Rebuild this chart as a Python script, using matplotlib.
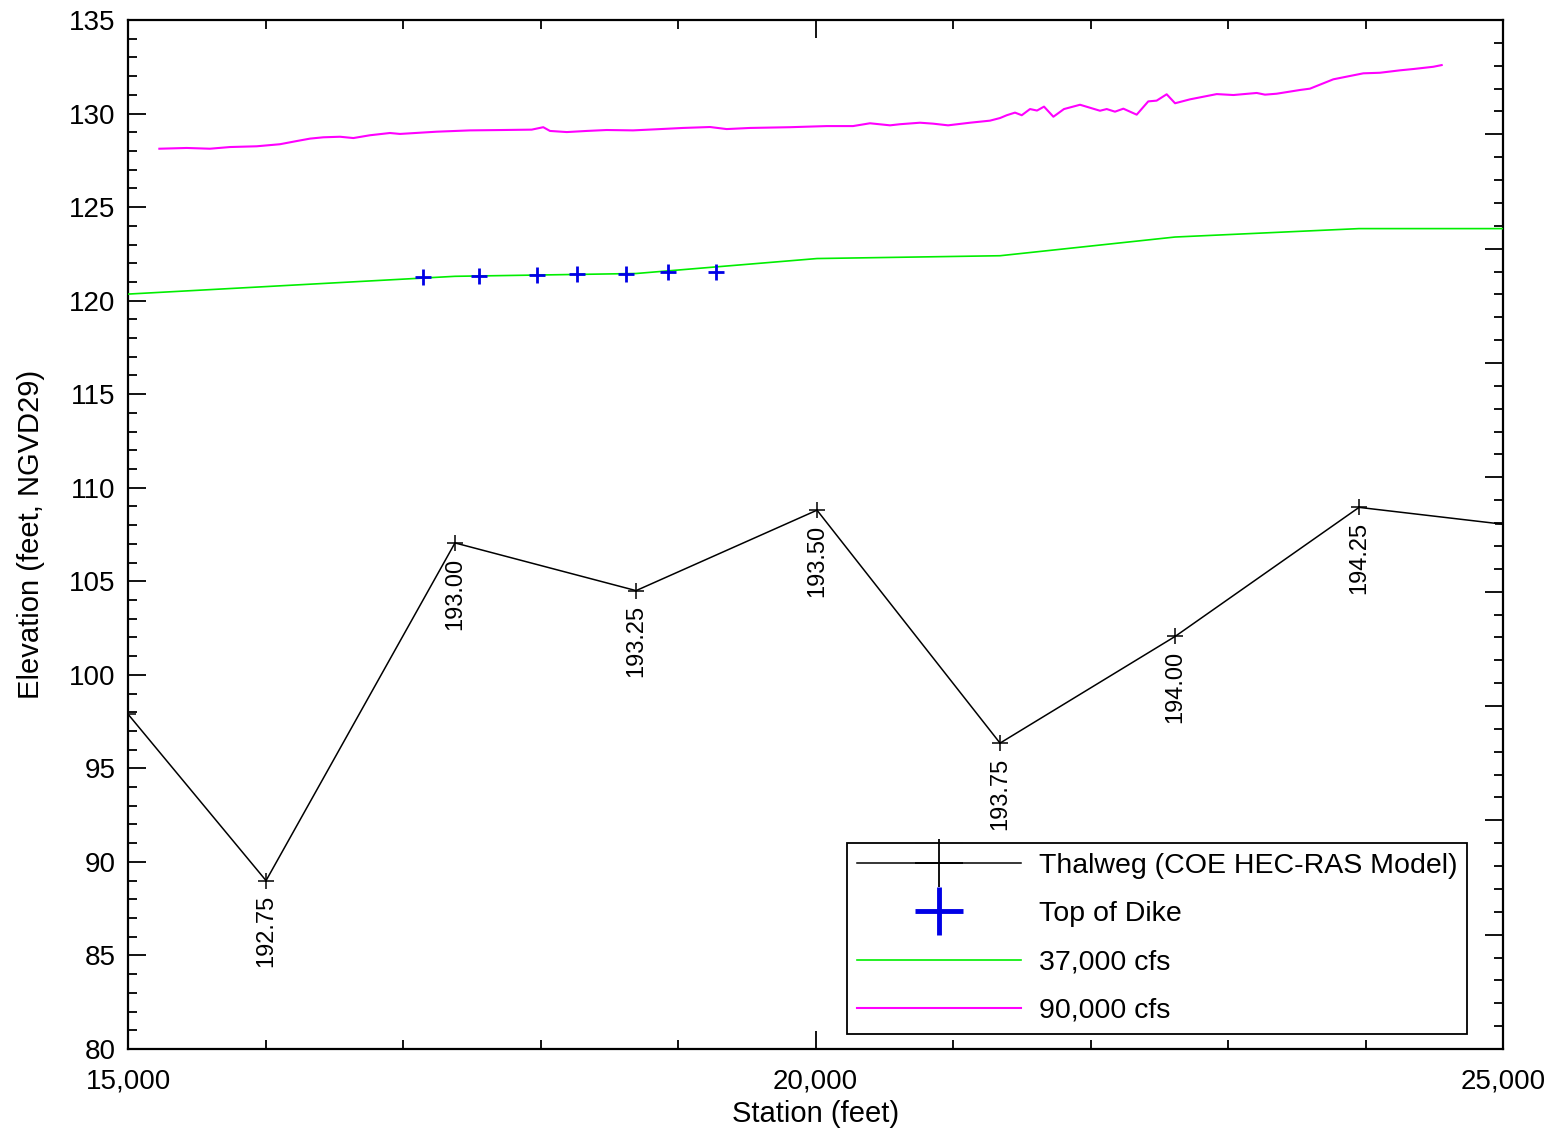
import numpy as np
import matplotlib
matplotlib.use("Agg")
import matplotlib.pyplot as plt
from matplotlib.lines import Line2D
from matplotlib.ticker import MultipleLocator, FuncFormatter

plt.rcParams['font.family'] = ['Liberation Sans', 'DejaVu Sans']

# ── Data ──
# Thalweg profile (station ft, elevation ft) and river mile labels
thal_x = [15000, 16004, 17378, 18695, 20011, 21342, 22615, 23953, 25000]
thal_y = [97.9, 89.0, 107.05, 104.5, 108.8, 96.35, 102.05, 108.95, 108.05]
rm_x = [16004, 17378, 18695, 20011, 21342, 22615, 23953]
rm_y = [89.0, 107.05, 104.5, 108.8, 96.35, 102.05, 108.95]
rm_labels = ["192.75", "193.00", "193.25", "193.50", "193.75", "194.00", "194.25"]

# Top of dike
dike_x = [17143, 17555, 17977, 18265, 18622, 18925, 19276]
dike_y = [121.28, 121.32, 121.37, 121.41, 121.44, 121.52, 121.52]

# 37,000 cfs water surface
q37_x = [15000, 17378, 18695, 20011, 21342, 22615, 23953, 25000]
q37_y = [120.35, 121.3, 121.45, 122.25, 122.4, 123.4, 123.85, 123.85]

# 90,000 cfs water surface
q90_x = [15228, 15427, 15596, 15742, 15936, 16105, 16227, 16324, 16420, 16542,
         16639, 16760, 16905, 16978, 17245, 17487, 17727, 17936, 18020, 18069,
         18191, 18336, 18481, 18673, 18845, 19036, 19233, 19354, 19524, 19815,
         20081, 20273, 20396, 20542, 20615, 20760, 20855, 20964, 21124, 21269,
         21342, 21391, 21451, 21500, 21560, 21611, 21662, 21730, 21807, 21924,
         22069, 22118, 22178, 22239, 22336, 22420, 22481, 22554, 22615, 22724,
         22918, 23039, 23209, 23269, 23354, 23524, 23596, 23766, 23984, 24105,
         24251, 24348, 24493, 24554]
q90_y = [128.12, 128.16, 128.12, 128.21, 128.25, 128.36, 128.53, 128.66, 128.73, 128.76,
         128.69, 128.84, 128.96, 128.91, 129.03, 129.10, 129.12, 129.14, 129.27, 129.07,
         129.01, 129.07, 129.12, 129.10, 129.16, 129.23, 129.28, 129.17, 129.23, 129.27,
         129.33, 129.33, 129.48, 129.37, 129.43, 129.51, 129.46, 129.37, 129.51, 129.62,
         129.76, 129.91, 130.05, 129.91, 130.24, 130.16, 130.37, 129.83, 130.24, 130.47,
         130.15, 130.24, 130.10, 130.26, 129.94, 130.65, 130.69, 131.03, 130.55, 130.76,
         131.04, 130.99, 131.10, 131.01, 131.06, 131.26, 131.33, 131.83, 132.15, 132.18,
         132.31, 132.38, 132.50, 132.59]

# ── Figure ──
fig = plt.figure(figsize=(15.58, 11.33), dpi=100)
ax = fig.add_axes([128/1558, 1 - 1049/1133, 1375/1558, 1029/1133])

ax.plot(q90_x, q90_y, color='#ff00ff', lw=1.5, zorder=3)
ax.plot(q37_x, q37_y, color='#00ee00', lw=1.2, zorder=3)
ax.plot(thal_x, thal_y, color='black', lw=1.1, marker='+', ms=11, mew=1.1, zorder=4)
ax.plot(dike_x, dike_y, ls='none', marker='+', ms=11, mew=2.0, color='#0000e6', zorder=5)

for x, y, lab in zip(rm_x, rm_y, rm_labels):
    ax.annotate(lab, (x, y), xytext=(0, -10.5), textcoords='offset points',
                rotation=90, ha='center', va='top', fontsize=17)

ax.set_xlim(15000, 25000)
ax.set_ylim(80, 135)
ax.xaxis.set_major_locator(MultipleLocator(5000))
ax.xaxis.set_minor_locator(MultipleLocator(1000))
ax.yaxis.set_major_locator(MultipleLocator(5))
ax.yaxis.set_minor_locator(MultipleLocator(1))
ax.xaxis.set_major_formatter(FuncFormatter(lambda v, p: f"{v:,.0f}"))
ax.tick_params(which='both', direction='in', top=True, right=False, labelsize=20, width=1.3)
ax.tick_params(which='major', length=13)
ax.tick_params(which='minor', length=6.5)
ax.tick_params(axis='x', pad=14)
ax.tick_params(axis='y', pad=9)
for sp in ax.spines.values():
    sp.set_linewidth(1.6)

ax.set_xlabel("Station (feet)", fontsize=21, labelpad=4)
ax.set_ylabel("Elevation (feet, NGVD29)", fontsize=21, labelpad=17)

# secondary unlabeled scale on right side
ax2 = ax.twinx()
ax2.set_ylim(0, 45)
ax2.yaxis.set_major_locator(MultipleLocator(5))
ax2.yaxis.set_minor_locator(MultipleLocator(1))
ax2.tick_params(which='both', direction='in', labelright=False, width=1.3)
ax2.tick_params(which='major', length=13)
ax2.tick_params(which='minor', length=6.5)
for sp in ax2.spines.values():
    sp.set_visible(False)

handles = [
    Line2D([], [], color='black', lw=1.1, marker='+', ms=34, mew=1.3),
    Line2D([], [], ls='none', marker='+', ms=34, mew=3.5, color='#0000e6'),
    Line2D([], [], color='#00ee00', lw=1.2),
    Line2D([], [], color='#ff00ff', lw=1.5),
]
labels = ["Thalweg (COE HEC-RAS Model)", "Top of Dike", "37,000 cfs", "90,000 cfs"]
leg = ax.legend(handles, labels, loc='lower left', bbox_to_anchor=(0.523, 0.0146),
                borderaxespad=0, fontsize=20.5, handlelength=5.75, handletextpad=0.62,
                labelspacing=0.78, borderpad=0.36, fancybox=False, frameon=True,
                framealpha=1, edgecolor='black')
leg.get_frame().set_linewidth(1.3)
leg.set_zorder(10)

fig.savefig("out.png", dpi=100)
